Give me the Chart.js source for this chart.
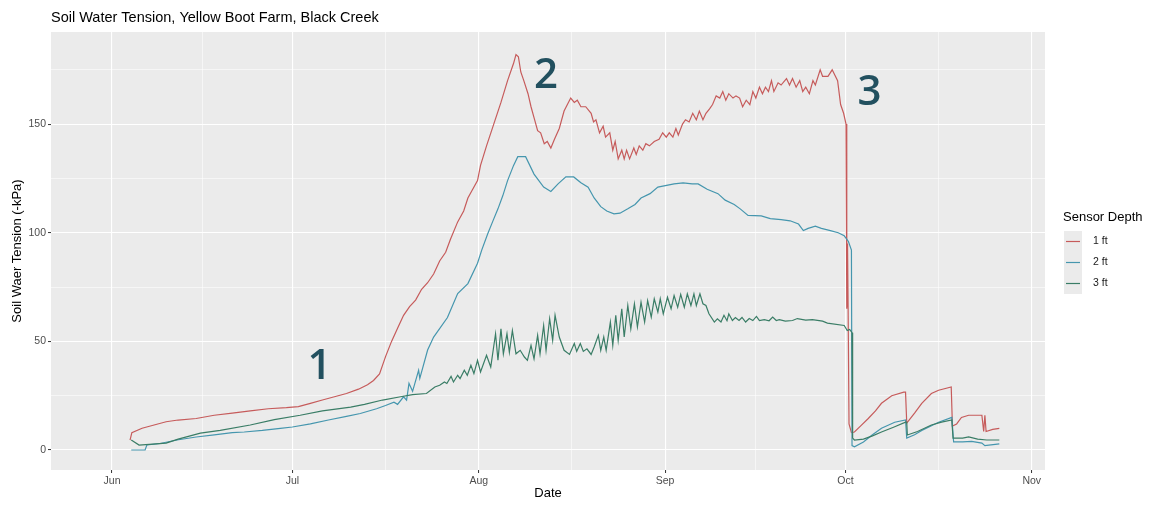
<!DOCTYPE html>
<html>
<head>
<meta charset="utf-8">
<script src="https://cdn.jsdelivr.net/npm/chart.js@4.4.1/dist/chart.umd.min.js"></script>
<style>
  html, body { margin: 0; padding: 0; background: #fff; }
  #wrap { width: 1151px; height: 506px; }
</style>
</head>
<body>
<div id="wrap"><canvas id="chart" width="1151" height="506"></canvas></div>
<script>
// Soil water tension - days counted from Jun 1 (0 = Jun 1)

const monthTicks = [0, 30, 61, 92, 122, 153];
const monthLabels = ['Jun', 'Jul', 'Aug', 'Sep', 'Oct', 'Nov'];
const monthMinorTicks = [15, 45.5, 76.5, 107, 137.5];
const kpaTicks = [0, 50, 100, 150];
const kpaMinorTicks = [25, 75, 125, 175];

const seriesNames = ['1 ft', '2 ft', '3 ft'];

// 1 ft sensor
const depth1Days = [3.0, 3.3, 5, 7, 9, 11, 14, 17, 20, 23, 26, 29, 31, 33, 35, 37, 39, 41, 42.5, 43.5,
  44.5, 45.5, 46.5, 47.5, 48.5, 49.5, 50.5, 51.5, 52.5, 53.5, 54.5, 55.5, 56.3, 57.5, 58.5, 59.2, 60, 60.8, 61.3, 62.3,
  63.5, 64.7, 65.8, 66.8, 67.2, 67.6, 68, 68.5, 69.2, 69.7, 70.2, 70.8, 71.3, 71.9, 72.4, 73, 73.6, 74.4, 75.2, 76.3,
  76.9, 77.4, 78, 78.8, 79.7, 80.1, 80.5, 81.1, 81.7, 82.1, 82.8, 83.3, 83.7, 84.2, 84.8, 85.2, 85.6, 86.1, 86.8, 87.2,
  87.7, 88.3, 88.8, 89.4, 90.2, 91, 91.6, 92.2, 92.7, 93.3, 93.8, 94.2, 94.9, 95.4, 96, 96.6, 97.2, 97.7, 98.3, 98.8,
  99.4, 99.9, 100.5, 101.1, 101.6, 102.1, 102.6, 103.3, 103.8, 104.4, 104.9, 105.5, 106.1, 106.6, 107.1, 107.7, 108.2, 108.7, 109.2, 109.7,
  110.1, 110.8, 111.3, 112.2, 112.7, 113.2, 113.8, 114.4, 114.9, 115.4, 116, 116.6, 117, 117.8, 118.2, 119.1, 119.8, 120.7, 121.2, 121.7,
  122.1, 122.2, 122.25, 122.3, 122.35, 122.45, 122.6, 123, 123.5, 124.5, 125.8, 127, 128, 129.7, 131.7, 132, 132.2, 133.5, 134.7, 136.3,
  137.5, 139.6, 139.8, 140.5, 141.3, 142.5, 144.7, 145, 145.2, 145.4, 146.5, 147.6];
const depth1Kpa = [4.5, 8, 10, 11.5, 13, 13.8, 14.5, 16, 17, 18, 19, 19.5, 20, 21.5, 23, 24.5, 26, 28, 30, 32,
  35, 43, 50, 56, 62, 66, 69, 74, 77, 81, 87, 91, 97, 105, 110, 116, 120, 124, 131, 140,
  150, 160, 170, 178, 182, 181, 174, 170, 164, 158, 153, 147, 146, 141, 142, 139, 143, 148, 156, 162,
  160, 161, 158, 158, 155, 151, 152, 146, 149, 144, 146, 138, 142, 134, 138, 134, 138, 134, 139, 136,
  140, 138, 141, 140, 142, 143, 146, 144, 146, 144, 148, 145, 150, 152, 151, 155, 152, 156, 152, 155,
  157, 159, 163, 162, 165, 161, 164, 162, 163, 162, 158, 161, 159, 165, 162, 167, 164, 167, 165, 170,
  165, 169, 168, 171, 168, 171, 167, 170, 165, 167, 164, 170, 168, 175, 172, 172, 175, 170, 159, 155,
  150, 65, 98, 66, 95, 65, 12, 8, 8.3, 11, 14.5, 18, 21.5, 25, 26.6, 26.6, 12.4, 17, 21.5, 26,
  27.5, 29, 11, 12, 15, 16, 16, 8.5, 16, 8.5, 9.5, 10];

// 2 ft sensor
const depth2Days = [3.2, 5.5, 5.8, 8, 10.8, 14, 17, 20, 22, 25, 28, 30, 33, 36, 39, 41.3, 44, 45.5, 46.9, 47.5,
  48.5, 49, 49.4, 50, 51, 51.2, 52.5, 53.5, 55.8, 57.5, 59.2, 60.8, 61.5, 62.5, 63.3, 64.2, 65, 65.8, 66.8, 67.5,
  68.8, 70.2, 71, 71.8, 73, 74.2, 75.5, 76.8, 78, 79.2, 80.2, 81.3, 82.3, 83.5, 84.5, 85.8, 87, 88, 89.5, 90.8,
  93.5, 95, 96.5, 97.5, 99, 100.8, 102, 103.5, 104.5, 105.8, 108, 109.5, 111.3, 112.8, 114.2, 115, 115.8, 117, 118, 119.5,
  120.8, 121.8, 122.5, 123, 123.1, 123.5, 125, 126.5, 128, 130.2, 132, 132.2, 133.5, 134.7, 137.5, 139.7, 140, 141.5, 143, 144.7,
  145.2, 147.6];
const depth2Kpa = [0, 0, 2.3, 3, 4.6, 6, 7, 8, 8.3, 9, 10, 10.6, 12, 13.8, 15.5, 16.8, 19, 20.5, 22, 21,
  24.5, 23, 30.7, 27, 36.7, 33, 46, 52, 61, 72, 76.6, 86, 92, 99.5, 105, 111, 117, 124, 131, 135,
  135, 127, 124, 121, 119, 122.5, 125.7, 125.7, 123, 121, 116, 112, 110, 108.7, 109, 111, 113, 116, 118, 121,
  122.5, 123, 122.5, 122.5, 120, 118, 115, 113, 111, 108, 107.8, 106.5, 106, 105.5, 104, 101, 102, 103, 102, 101,
  100, 98.6, 96, 92, 2, 1.5, 3.7, 7, 10, 12.8, 13.8, 5.5, 7, 9, 12.8, 15, 3.7, 3.7, 4, 3.2,
  2, 2.8];

// 3 ft sensor
const depth3Days = [3.2, 4.5, 9, 11, 14.7, 18, 23, 27, 31.3, 35, 39.7, 42, 45, 48, 50, 52.3, 53.7, 54.5, 55.3, 55.7,
  56.4, 56.8, 57.5, 57.9, 58.6, 59.1, 59.7, 60.2, 60.8, 61.3, 62.3, 63, 63.8, 64.2, 64.7, 65.1, 65.7, 66.1, 66.6, 67.2,
  67.9, 68.6, 69.1, 69.7, 70.2, 70.8, 71.2, 71.8, 72.2, 72.8, 73.3, 73.7, 74.4, 75.2, 76.1, 76.9, 77.3, 77.9, 78.4, 79,
  79.7, 80.2, 80.9, 81.3, 81.8, 82.2, 82.9, 83.3, 83.8, 84.2, 84.8, 85.2, 85.8, 86.3, 86.9, 87.4, 88, 88.6, 89.1, 89.7,
  90.2, 90.8, 91.2, 91.7, 92.4, 93, 93.5, 94.1, 94.6, 95.2, 95.7, 96.3, 96.8, 97.2, 97.8, 98.3, 98.8, 99.3, 100.2, 100.7,
  101.3, 101.8, 102.3, 102.6, 103.2, 103.7, 104.3, 104.8, 105.4, 106, 106.6, 107.2, 107.7, 108.5, 109.3, 109.9, 110.5, 111, 112, 113.2,
  114, 115.4, 116.5, 118.2, 119, 121.8, 122.3, 122.7, 123.1, 123.2, 123.5, 125, 126.5, 128, 130, 132, 132.2, 132.3, 134, 136.3,
  138, 139.7, 139.9, 141.5, 142.5, 144, 145.5, 147.6];
const depth3Kpa = [4.6, 2.3, 3.2, 5, 7.8, 9, 11.5, 14, 16, 18, 19.7, 21, 23, 24.5, 25.5, 26, 29, 29.8, 31.3, 30.6,
  33.9, 31.3, 34.4, 32.9, 36.7, 34.4, 39, 35.2, 41.3, 35.9, 43.6, 38.2, 53.5, 41.3, 55.8, 44.3, 53.5, 45, 55, 44.3,
  45.9, 42.8, 41.3, 48.2, 42, 52.8, 44.3, 57.3, 45.9, 60.4, 50.5, 62, 52, 45.9, 44, 49, 45.4, 49, 45.4, 46.6,
  44, 47.4, 52.8, 45.9, 52, 45.9, 58.9, 48.2, 62, 50.5, 65, 52, 66.5, 55.8, 67.3, 56.7, 68, 58.9, 68.8, 61.2,
  69.6, 63.5, 69.6, 62.7, 70.3, 65, 71.1, 65.7, 71.6, 65.7, 71.9, 66.5, 71.9, 66.5, 71.9, 67.3, 66.5, 62.7, 58.9, 60.4,
  58.9, 62, 59.5, 62.7, 59.6, 61, 59.6, 61, 58.9, 60.5, 59.6, 61.5, 59.6, 60, 59.5, 61.2, 59.6, 60, 59.3, 59.6,
  60.5, 59.8, 60, 59.3, 58.4, 57.3, 55, 55.5, 54, 5.5, 4.6, 5, 6.5, 8.3, 10.5, 12.8, 12.8, 6.9, 8.5, 11.5,
  12.8, 13.8, 5.5, 5.5, 6, 5, 4.6, 4.6];

// numbered call-outs on the plot
const noteLabels = ['1', '2', '3'];
const noteDays = [34.5, 72.2, 126];
const noteKpa = [39, 173, 165];

const lineColors = ['#C65B5B', '#4596AE', '#3A7D66'];
const FONT = '"Liberation Sans", Arial, Helvetica, sans-serif';

function toPoints(days, vals) {
    return days.map((d, i) => ({ x: d, y: vals[i] }));
}

const ggBackground = {
    id: 'ggBackground',
    beforeDraw(chart) {
        const { ctx, chartArea: a } = chart;
        ctx.save();
        ctx.fillStyle = '#fff';
        ctx.fillRect(0, 0, chart.width, chart.height);
        ctx.fillStyle = '#EBEBEB';
        ctx.fillRect(a.left, a.top, a.right - a.left, a.bottom - a.top);
        ctx.restore();
    }
};

const ggExtras = {
    id: 'ggExtras',
    afterDatasetsDraw(chart) {
        const { ctx, scales } = chart;
        ctx.save();
        // call-out numbers
        ctx.fillStyle = '#22505F';
        ctx.font = '600 42px "Open Sans", "Noto Sans", sans-serif';
        ctx.textAlign = 'center';
        ctx.textBaseline = 'middle';
        noteLabels.forEach((t, i) => {
            ctx.fillText(t, scales.x.getPixelForValue(noteDays[i]), scales.y.getPixelForValue(noteKpa[i]) + 2);
        });
        ctx.restore();
    },
    afterDraw(chart) {
        const { ctx, chartArea: a } = chart;
        ctx.save();
        // plot title
        ctx.fillStyle = '#000';
        ctx.font = '14.5px ' + FONT;
        ctx.textAlign = 'left';
        ctx.textBaseline = 'middle';
        ctx.fillText('Soil Water Tension, Yellow Boot Farm, Black Creek', a.left, 18);

        // legend
        const lx = a.right + 18;
        ctx.font = '13px ' + FONT;
        ctx.fillText('Sensor Depth', lx, 217);
        const keyTop = 231, keyH = 21, keyW = 18;
        chart.data.datasets.forEach((ds, i) => {
            const ky = keyTop + i * keyH;
            ctx.fillStyle = '#EBEBEB';
            ctx.fillRect(lx + 1, ky, keyW, keyH);
            ctx.strokeStyle = ds.borderColor;
            ctx.lineWidth = 1.2;
            ctx.beginPath();
            ctx.moveTo(lx + 3, ky + keyH / 2);
            ctx.lineTo(lx + keyW - 1, ky + keyH / 2);
            ctx.stroke();
            ctx.fillStyle = '#1A1A1A';
            ctx.font = '10.5px ' + FONT;
            ctx.fillText(ds.label, lx + 30, ky + keyH / 2);
        });
        ctx.restore();
    }
};

const ctx = document.getElementById('chart').getContext('2d');
new Chart(ctx, {
    type: 'line',
    data: {
        datasets: [
            { label: seriesNames[0], data: toPoints(depth1Days, depth1Kpa), borderColor: lineColors[0], order: 3 },
            { label: seriesNames[1], data: toPoints(depth2Days, depth2Kpa), borderColor: lineColors[1], order: 2 },
            { label: seriesNames[2], data: toPoints(depth3Days, depth3Kpa), borderColor: lineColors[2], order: 1 }
        ].map(ds => Object.assign(ds, { borderWidth: 1.2, pointRadius: 0, tension: 0, fill: false }))
    },
    options: {
        responsive: false,
        animation: false,
        devicePixelRatio: 1,
        layout: { padding: { left: 0, right: 106, top: 32, bottom: 0 } },
        plugins: {
            legend: { display: false },
            tooltip: { enabled: false },
            title: { display: false }
        },
        scales: {
            x: {
                type: 'linear',
                min: -10.15,
                max: 155.2,
                afterFit: s => { s.height = 36; },
                afterBuildTicks: s => {
                    s.ticks = monthTicks.concat(monthMinorTicks).sort((a, b) => a - b).map(v => ({ value: v }));
                },
                border: { display: false },
                grid: {
                    color: '#FFFFFF',
                    lineWidth: c => (monthTicks.includes(c.tick.value) ? 1.1 : 0.55),
                    tickColor: c => (monthTicks.includes(c.tick.value) ? '#333333' : 'rgba(0,0,0,0)'),
                    tickLength: 3,
                    tickWidth: 1
                },
                ticks: {
                    autoSkip: false,
                    maxRotation: 0,
                    padding: 2,
                    color: '#4D4D4D',
                    font: { family: FONT, size: 10.5 },
                    callback: v => {
                        const i = monthTicks.indexOf(v);
                        return i >= 0 ? monthLabels[i] : '';
                    }
                },
                title: {
                    display: true,
                    text: 'Date',
                    color: '#000',
                    font: { family: FONT, size: 13 },
                    padding: { top: 0, bottom: 4.5 }
                }
            },
            y: {
                type: 'linear',
                min: -9.2,
                max: 192.4,
                afterFit: s => { s.width = 51; },
                afterBuildTicks: s => {
                    s.ticks = kpaTicks.concat(kpaMinorTicks).sort((a, b) => a - b).map(v => ({ value: v }));
                },
                border: { display: false },
                grid: {
                    color: '#FFFFFF',
                    lineWidth: c => (kpaTicks.includes(c.tick.value) ? 1.1 : 0.55),
                    tickColor: c => (kpaTicks.includes(c.tick.value) ? '#333333' : 'rgba(0,0,0,0)'),
                    tickLength: 3,
                    tickWidth: 1
                },
                ticks: {
                    padding: 2,
                    color: '#4D4D4D',
                    font: { family: FONT, size: 10.5 },
                    callback: v => (kpaTicks.includes(v) ? String(v) : '')
                },
                title: {
                    display: true,
                    text: 'Soil Waer Tension (-kPa)',
                    color: '#000',
                    font: { family: FONT, size: 13 },
                    padding: { top: 9.5, bottom: 0 }
                }
            }
        }
    },
    plugins: [ggBackground, ggExtras]
});
</script>
</body>
</html>
